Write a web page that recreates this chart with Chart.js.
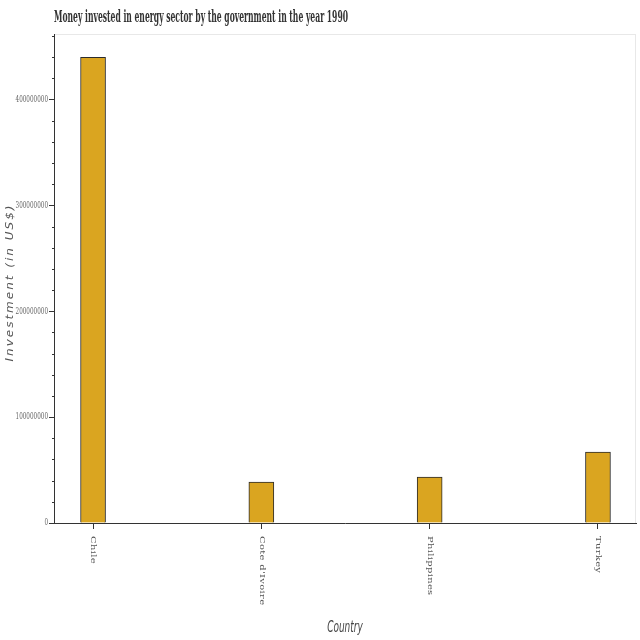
<!DOCTYPE html>
<html>
<head>
<meta charset="utf-8">
<script src="https://cdn.jsdelivr.net/npm/chart.js@4"></script>
<style>
  html, body { margin: 0; padding: 0; background: #fff; }
</style>
</head>
<body>
<canvas id="bars" width="640" height="640"></canvas>
<script>
const countries = ['Chile', "Cote d'Ivoire", 'Philippines', 'Turkey'];
const investment = [440000000, 38700000, 43300000, 67000000];
const yTickStep = 20000000;
const yLabelStep = 100000000;
const chartTitle = 'Money invested in energy sector by the government in the year 1990';
const yTitle = 'Investment (in US$)';
const xTitle = 'Country';

const isMajor = (v) => v % yLabelStep === 0;

// light frame round the plot area, like the bokeh outline
const outline = {
  id: 'outline',
  beforeDraw(chart) {
    const { ctx, chartArea: a } = chart;
    ctx.save();
    ctx.strokeStyle = '#e8e8e8';
    ctx.lineWidth = 1;
    ctx.strokeRect(a.left + 0.5, a.top + 0.5, a.right - a.left - 1, a.bottom - a.top);
    ctx.restore();
  }
};

// squeezed text: title, axis titles, tick labels
const drawText = (ctx, text, x, y, sx, angle) => {
  ctx.save();
  ctx.translate(x, y);
  ctx.scale(sx, 1);
  ctx.rotate(angle);
  ctx.fillText(text, 0, 0);
  ctx.restore();
};

const sideText = {
  id: 'sideText',
  afterDraw(chart) {
    const { ctx, chartArea, scales } = chart;
    const midX = (chartArea.left + chartArea.right) / 2;
    ctx.save();
    ctx.textBaseline = 'middle';

    ctx.fillStyle = '#333';
    ctx.textAlign = 'left';
    ctx.font = 'bold 16px "DejaVu Serif Condensed"';
    drawText(ctx, chartTitle, chartArea.left, 18, 0.53, 0);

    // minor ticks are shorter than the major ones
    ctx.strokeStyle = '#333';
    ctx.lineWidth = 1;
    scales.y.ticks.forEach((t) => {
      if (isMajor(t.value)) return;
      const y = Math.round(scales.y.getPixelForValue(t.value)) + 0.5;
      ctx.beginPath();
      ctx.moveTo(chartArea.left - 2, y);
      ctx.lineTo(chartArea.left, y);
      ctx.stroke();
    });

    ctx.fillStyle = '#666';
    ctx.textAlign = 'right';
    ctx.font = '9px "DejaVu Serif Condensed"';
    scales.y.ticks.forEach((t) => {
      if (!isMajor(t.value)) return;
      drawText(ctx, String(t.value), chartArea.left - 6, scales.y.getPixelForValue(t.value), 0.7, 0);
    });

    ctx.fillStyle = '#555';
    ctx.textAlign = 'left';
    ctx.font = '10px "DejaVu Serif"';
    ctx.letterSpacing = '0.3px';
    countries.forEach((name, i) => {
      drawText(ctx, name, scales.x.getPixelForValue(i), chartArea.bottom + 13, 0.7, Math.PI / 2);
    });

    ctx.textAlign = 'center';
    ctx.fillStyle = '#444';
    ctx.letterSpacing = '0px';
    ctx.font = 'italic 16px "DejaVu Sans Condensed"';
    drawText(ctx, xTitle, midX, 628, 0.62, 0);

    ctx.fillStyle = '#555';
    ctx.font = 'italic 12px "DejaVu Sans"';
    ctx.letterSpacing = '2px';
    drawText(ctx, yTitle, 10, (chartArea.top + chartArea.bottom) / 2 + 4, 0.85, -Math.PI / 2);
    ctx.restore();
  }
};

new Chart(document.getElementById('bars'), {
  type: 'bar',
  data: {
    datasets: [{
      data: investment.map((v, i) => ({ x: i, y: v })),
      backgroundColor: '#DAA520',
      borderColor: '#2b2b2b',
      borderWidth: 1,
      barThickness: 25
    }]
  },
  options: {
    responsive: false,
    animation: false,
    layout: { padding: { top: 34, right: 4, left: 0, bottom: 0 } },
    plugins: {
      legend: { display: false },
      tooltip: { enabled: false }
    },
    scales: {
      x: {
        type: 'linear',
        offset: false,
        min: -0.232,
        max: 3.226,
        afterBuildTicks: (s) => { s.ticks = countries.map((_, i) => ({ value: i })); },
        afterFit: (s) => { s.height = 117; },
        ticks: { display: false },
        grid: { offset: false, drawOnChartArea: false, drawTicks: true, tickLength: 6, color: '#333' },
        border: { color: '#333', width: 1 }
      },
      y: {
        min: 0,
        max: 462000000,
        afterBuildTicks: (s) => {
          const ticks = [];
          for (let v = 0; v <= s.max; v += yTickStep) ticks.push({ value: v });
          s.ticks = ticks;
        },
        afterFit: (s) => { s.width = 54; },
        ticks: { display: false },
        grid: {
          drawOnChartArea: false,
          drawTicks: true,
          tickLength: 5,
          color: '#333',
          tickColor: (c) => (c.tick && isMajor(c.tick.value) ? '#333' : 'rgba(0,0,0,0)')
        },
        border: { color: '#333', width: 1 }
      }
    }
  },
  plugins: [outline, sideText]
});
</script>
</body>
</html>
